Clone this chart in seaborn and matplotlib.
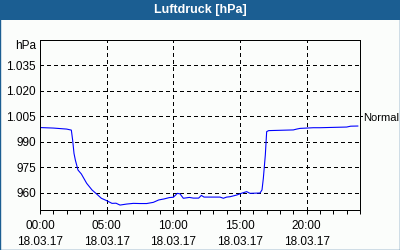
import matplotlib
matplotlib.use("Agg")
import matplotlib.pyplot as plt
from matplotlib.patches import Rectangle
from matplotlib.ticker import MultipleLocator
import seaborn as sns
import pandas as pd

# ---- data ----
hours = [0.0, 1.0, 2.0, 2.35, 2.45, 2.55, 2.65, 2.85, 3.1, 3.5, 3.9, 4.25, 4.6, 5.0,
         5.4, 5.7, 6.0, 6.5, 7.0, 7.5, 8.0, 8.5, 8.9, 9.3, 9.7, 10.0, 10.3, 10.5,
         10.75, 11.2, 11.5, 11.9, 12.1, 12.3, 13.0, 13.5, 13.75, 14.0, 14.25, 14.75,
         15.1, 15.5, 15.75, 16.5, 16.65, 16.75, 16.9, 17.0, 17.15, 19.0, 19.25, 19.5,
         20.0, 20.5, 21.0, 22.0, 23.0, 23.3, 23.85]
pressure = [998.5, 998.2, 997.6, 997.0, 991.0, 983.3, 979.4, 973.5, 971.2, 965.7, 961.8,
            959.4, 956.9, 955.5, 953.9, 954.0, 952.9, 953.5, 953.9, 953.8, 953.8, 954.5,
            955.9, 956.5, 957.3, 957.5, 959.8, 959.5, 956.9, 957.4, 957.0, 957.0, 958.6,
            957.6, 957.6, 957.6, 956.9, 957.6, 957.8, 958.8, 959.8, 960.8, 959.8, 960.0,
            961.8, 968.6, 982.4, 996.1, 996.7, 997.1, 997.6, 998.0, 998.2, 998.4, 998.4,
            998.6, 998.8, 999.3, 999.4]
y_ticks = [960, 975, 990, 1005, 1020, 1035]
y_tick_labels = ["960", "975", "990", "1.005", "1.020", "1.035"]
x_ticks = [0, 5, 10, 15, 20]
x_tick_labels = ["00:00\n18.03.17", "05:00\n18.03.17", "10:00\n18.03.17",
                 "15:00\n18.03.17", "20:00\n18.03.17"]
normal_value = 1005
normal_label = "Normal"
title = "Luftdruck [hPa]"
unit = "hPa"

# ---- style ----
sns.set_style("white")
plt.rcParams["font.family"] = ["Liberation Sans", "DejaVu Sans"]
BG = "#fbfdfb"
BAR = "#1b5e92"
PX = 0.72  # one pixel in points at dpi 100

fig = plt.figure(figsize=(4, 2.5), dpi=100, facecolor=BG)
ax = fig.add_axes([0.1, 0.16, 0.8, 0.68], facecolor=BG)

df = pd.DataFrame({"h": hours, "p": pressure})
sns.lineplot(data=df, x="h", y="p", color="#0000ff", linewidth=PX * 1.1, ax=ax,
             antialiased=True, sort=False)

ax.set_xlim(0, 24)
ax.set_ylim(950, 1050)
ax.set_xlabel("")
ax.set_ylabel("")

ax.set_yticks(y_ticks)
ax.set_yticklabels(y_tick_labels, fontsize=8.5, color="black")
ax.set_xticks(x_ticks)
ax.set_xticklabels(x_tick_labels, fontsize=8.5, color="black", linespacing=1.45)
ax.xaxis.set_minor_locator(MultipleLocator(1))
ax.tick_params(axis="y", length=0, pad=3)
ax.tick_params(axis="x", which="both", direction="out", length=3, width=PX,
               color="black", pad=4, bottom=True)

ax.grid(True, which="major", color="black", linestyle=(0, (4, 4)), linewidth=PX,
        antialiased=False)
for s in ax.spines.values():
    s.set_visible(True)
    s.set_color("black")
    s.set_linewidth(PX)
    s.set_antialiased(False)

ax.text(-0.012, 1046.5, unit, transform=ax.get_yaxis_transform(),
        ha="right", va="center", fontsize=8.5, color="black")

# "Normal" marker on the right edge
ax.plot([1.0, 1.006], [normal_value, normal_value], transform=ax.get_yaxis_transform(),
        color="black", linewidth=PX, clip_on=False, antialiased=False)
ax.text(1.01, normal_value - 1.0, normal_label, transform=ax.get_yaxis_transform(),
        ha="left", va="center", fontsize=8, color="black")

# title bar and border
fig.patches.append(Rectangle((0, 0.92), 1, 0.08, transform=fig.transFigure,
                             facecolor=BAR, edgecolor="none", zorder=0))
fig.patches.append(Rectangle((0.0012, 0.002), 0.9976, 0.996, transform=fig.transFigure,
                             facecolor="none", edgecolor=BAR, linewidth=1, zorder=5))
fig.text(0.5, 0.96, title, ha="center", va="center", color="white",
         fontsize=9, fontweight="bold")

fig.savefig("out.png", dpi=100, facecolor=BG)
